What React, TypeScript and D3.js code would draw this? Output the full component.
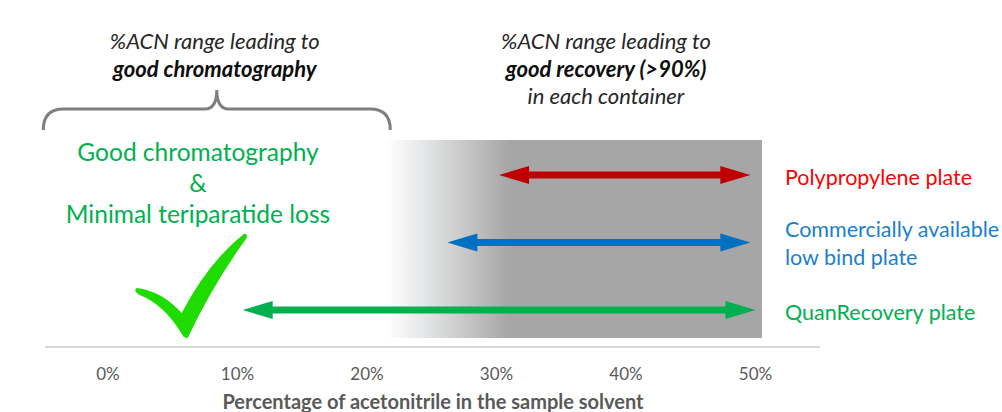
import React from 'react';
import * as d3 from 'd3';

// plates and the %ACN range (start/end) giving >90% recovery
const plates = ['Polypropylene plate', 'Commercially available low bind plate', 'QuanRecovery plate'];
const rangeStart = [30.2, 26.2, 10.4];
const rangeEnd = [49.6, 49.6, 50];
const plateColors = ['#c00000', '#0070c0', '#00b050'];
const labelColors = ['#ff0000', '#1a7fcf', '#00b050'];
const labelLines = [['Polypropylene plate'], ['Commercially available', 'low bind plate'], ['QuanRecovery plate']];

const tickValues = [0, 10, 20, 30, 40, 50];
// grey "good recovery" zone: gradient start, solid start, end
const recoveryZone = [21.5, 31, 50.5];
// brace for good chromatography range
const chromRange = [-5, 21.8];
const checkAt = 6;

const W = 1002, H = 412;

const App = () => {
  const x = d3.scaleLinear().domain([0, 50]).range([108, 755.5]);
  const y = d3.scalePoint<string>().domain(plates).range([175, 310]);

  const font = 'Lato, "Open Sans", sans-serif';
  const headLen = 30, headHalf = 9, lineW = 7;

  const arrow = (i: number) => {
    const x0 = x(rangeStart[i]), x1 = x(rangeEnd[i]), yy = y(plates[i])!;
    return (
      <g key={i} fill={plateColors[i]}>
        <rect x={x0 + headLen - 2} y={yy - lineW / 2} width={x1 - x0 - 2 * headLen + 4} height={lineW} />
        <path d={`M${x0},${yy}L${x0 + headLen},${yy - headHalf}L${x0 + headLen},${yy + headHalf}Z`} />
        <path d={`M${x1},${yy}L${x1 - headLen},${yy - headHalf}L${x1 - headLen},${yy + headHalf}Z`} />
      </g>
    );
  };

  // brace
  const bx0 = x(chromRange[0]), bx1 = x(chromRange[1]), bm = (bx0 + bx1) / 2;
  const by = 109;
  const brace = `M${bx0},130 Q${bx0},${by} ${bx0 + 20},${by} L${bm - 12},${by} Q${bm},${by} ${bm},90 Q${bm},${by} ${bm + 12},${by} L${bx1 - 20},${by} Q${bx1},${by} ${bx1},130`;

  // check mark, drawn around its bottom point
  const cx = x(checkAt), cy = 337;
  const p = (dx: number, dy: number) => `${cx + dx},${cy + dy}`;
  const checkPath =
    `M${p(-49, -49)} Q${p(-24, -46)} ${p(-4, -24)} Q${p(22, -74)} ${p(58, -103)} Q${p(62, -104)} ${p(61, -99)}` +
    ` Q${p(28, -54)} ${p(2, 1)} Q${p(-2, 1)} ${p(-4, -3)} Q${p(-21, -32)} ${p(-46, -42)} Q${p(-53, -46)} ${p(-49, -49)} Z`;

  return (
    <svg width={W} height={H} style={{ position: 'absolute', left: 0, top: 0 }} fontFamily={font}>
      <defs>
        <linearGradient id="zone" x1={x(recoveryZone[0])} x2={x(recoveryZone[1])} gradientUnits="userSpaceOnUse">
          <stop offset="0" stopColor="#ffffff" />
          <stop offset="0.3" stopColor="#e6e7e8" />
          <stop offset="1" stopColor="#a6a6a6" />
        </linearGradient>
      </defs>
      <rect x={x(recoveryZone[0])} y={140} width={x(recoveryZone[2]) - x(recoveryZone[0])} height={198} fill="url(#zone)" />

      {/* axis */}
      <line x1={45} x2={820} y1={347} y2={347} stroke="#d9d9d9" strokeWidth={2} />
      {tickValues.map(t => (
        <text key={t} x={x(t)} y={380} textAnchor="middle" fontSize={17} fill="#595959">{t}%</text>
      ))}
      <text x={433} y={409} textAnchor="middle" fontSize={20} fontWeight="bold" fill="#595959">
        Percentage of acetonitrile in the sample solvent
      </text>

      {plates.map((_, i) => arrow(i))}
      {plates.map((pl, i) => (
        <text key={pl} x={785} y={y(pl)! + 10 - (labelLines[i].length - 1) * 16} fontSize={21.5} fill={labelColors[i]}>
          {labelLines[i].map((l, j) => (
            <tspan key={j} x={785} dy={j === 0 ? 0 : 28}>{l}</tspan>
          ))}
        </text>
      ))}

      {/* chromatography annotation */}
      <g fontSize={22} fontStyle="italic" textAnchor="middle">
        <text x={bm - 2} y={49} fill="#262626">%ACN range leading to</text>
        <text x={bm - 2} y={77} fontWeight="bold" fill="#0d0d0d">good chromatography</text>
        <text x={606} y={49} fill="#262626">%ACN range leading to</text>
        <text x={606} y={77} fontWeight="bold" fill="#0d0d0d">good recovery (&gt;90%)</text>
        <text x={606} y={104} fill="#262626">in each container</text>
      </g>
      <path d={brace} fill="none" stroke="#7f7f7f" strokeWidth={3} />

      <g fill="#00b050" fontSize={24.5} textAnchor="middle">
        <text x={198} y={161}>Good chromatography</text>
        <text x={198} y={192}>&amp;</text>
        <text x={198} y={223}>Minimal teriparatide loss</text>
      </g>

      <path d={checkPath} fill="#1fdc00" />
    </svg>
  );
};

export default App;
